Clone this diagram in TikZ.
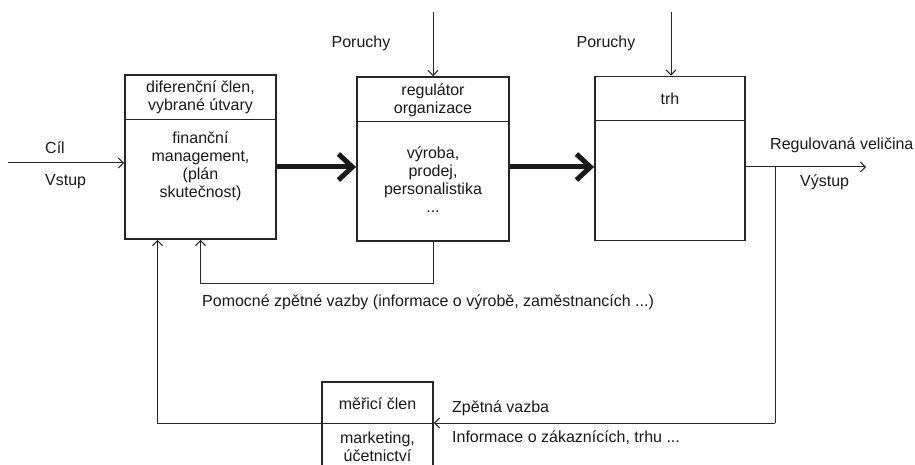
\documentclass[tikz,border=0pt]{standalone}
\usepackage{fontspec}
\setmainfont{Liberation Sans}
\usetikzlibrary{arrows.meta}
\tikzstyle{anno} = [font=\fontsize{16}{18}\selectfont, inner sep=0pt, text=black!90]
\tikzstyle{inside} = [anno, align=center]
\tikzstyle{block} = [rectangle, draw=black!85, line width=1.8pt, minimum width=151pt, minimum height=164pt]
\tikzstyle{divider} = [draw=black!85, line width=0.8pt]
\tikzstyle{wire} = [draw=black!85, line width=1pt]
\tikzstyle{arrow} = [wire, -{Straight Barb[length=5pt,width=10pt]}]
\tikzstyle{bigarrow} = [draw=black!90, line width=5pt, -{Straight Barb[length=14pt,width=26pt]}]

\begin{document}
\begin{tikzpicture}[x=1pt, y=-1pt]
\clip (0,0) rectangle (915,465);
  \node (diff) [block] at (200.5,157) {};
  \node (regulator) [block, minimum width=152pt] at (433,159) {};
  \node (trh) [block, minimum width=150pt] at (670,158.5) {};
  \node (meric) [block, minimum width=111pt, minimum height=100pt] at (377.5,432) {};
\foreach \b in {diff, regulator, trh}
  \draw[divider] ([yshift=-45pt]\b.north west) -- ([yshift=-45pt]\b.north east);
  \node (diffTop) [inside] at ([yshift=-23pt]diff.north) {diferenční člen,\\vybrané útvary};
  \node (diffText) [inside] at ([yshift=-92pt]diff.north) {finanční\\management,\\(plán\\skutečnost)};
  \node (regTop) [inside] at ([yshift=-24pt]regulator.north) {regulátor\\organizace};
  \node (regText) [inside] at ([yshift=-104pt]regulator.north) {výroba,\\prodej,\\personalistika\\...};
  \node (trhTop) [inside] at ([yshift=-23pt]trh.north) {trh};
  \node (mericTop) [inside] at ([yshift=-23pt]meric.north) {měřicí člen};
  \node (mericText) [inside] at ([yshift=-66pt]meric.north) {marketing,\\účetnictví};
  \node (cil) [anno, anchor=west] at (45,148) {Cíl};
  \node (vstupText) [anno, anchor=west] at (45,182) {Vstup};
  \node (poruchy1) [anno] at (361,43) {Poruchy};
  \node (poruchy2) [anno] at (606,43) {Poruchy};
  \node (regvel) [anno, anchor=west] at (770,145) {Regulovaná veličina};
  \node (vystupText) [anno, anchor=west] at (800,182) {Výstup};
  \node (pomocne) [anno, anchor=west] at (202,302) {Pomocné zpětné vazby (informace o výrobě, zaměstnancích ...)};
  \node (zpetna) [anno, anchor=west] at (452,408) {Zpětná vazba};
  \node (info) [anno, anchor=west] at (452,438) {Informace o zákaznících, trhu ...};
  \coordinate (in) at (8,163);
  \coordinate (out) at (866,167);
  \coordinate (branch) at (775,167);
  \coordinate (fb) at (775,423);
  \coordinate (dist1) at (433,12);
  \coordinate (dist2) at (671,12);

  \draw[arrow] (in) -- (in -| diff.west);
  \draw[bigarrow] (diff.east |- out) -- (regulator.west |- out);
  \draw[bigarrow] (regulator.east |- out) -- (trh.west |- out);
  \draw[arrow] (trh.east |- out) -- (out);
  \draw[arrow] (dist1) -- (regulator.north);
  \draw[arrow] (dist2) -- (dist2 |- trh.north);
  \draw[arrow] (regulator.south) -- ++(0,42) -| (diff.south);
  \draw[wire] (branch) -- (fb);
  \draw[arrow] (fb) -- (fb -| meric.east);
  \draw[divider] (fb -| meric.west) -- (fb -| meric.east);
  \draw[arrow] (fb -| meric.west) -| ([xshift=-43pt]diff.south);
\end{tikzpicture}
\end{document}
